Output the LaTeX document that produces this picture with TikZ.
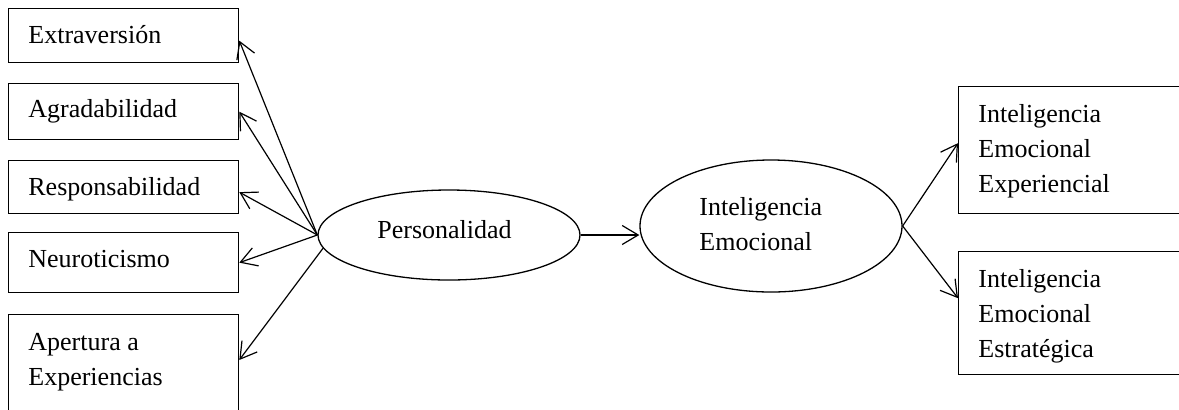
\documentclass[tikz,border=0pt]{standalone}
\usepackage{fontspec}
\setmainfont{Liberation Serif}
\usetikzlibrary{arrows.meta,shapes.geometric,calc}
\begin{document}
\begin{tikzpicture}[x=0.5pt,y=-0.5pt,
  frame/.style={draw, line width=0.65pt, fill=white, inner sep=0pt, anchor=north west},
  lbl/.style={inner sep=0pt, anchor=base west, align=left, font=\fontsize{13}{17.5}\selectfont},
  oval/.style={draw, ellipse, line width=0.65pt, inner sep=0pt, fill=white},
  link/.style={line width=0.6pt, -{Straight Barb[length=8pt,width=9.5pt]}}
]
\useasboundingbox (0,0) rectangle (1179,409);
\clip (0,0) rectangle (1179,409);

% personality trait boxes
\node[frame, minimum width=115pt, minimum height=27pt]   (ext) at (8,8)   {};
\node[frame, minimum width=115pt, minimum height=28pt]   (agr) at (8,83)  {};
\node[frame, minimum width=115pt, minimum height=26.5pt] (res) at (8,160) {};
\node[frame, minimum width=115pt, minimum height=30pt]   (neu) at (8,232) {};
\node[frame, minimum width=115pt, minimum height=75pt]   (ape) at (8,314) {};

% multi-line labels are placed by the baseline of their last line
\node[lbl] (extT) at (28,43)  {Extraversión};
\node[lbl] (agrT) at (28,117) {Agradabilidad};
\node[lbl] (resT) at (28,195) {Responsabilidad};
\node[lbl] (neuT) at (28,267) {Neuroticismo};
\node[lbl] (apeT) at (28,385) {Apertura a\\Experiencias};

% latent constructs
\node[oval, minimum width=131pt, minimum height=45pt] (pers) at (449,235) {};
\node[lbl] (persT) at (377,238) {Personalidad};
\node[oval, minimum width=131pt, minimum height=66pt] (ie) at (771,226) {};
\node[lbl] (ieT) at (699,250) {Inteligencia\\Emocional};

% emotional intelligence branches
\node[frame, minimum width=130pt, minimum height=63.5pt] (iee) at (958,86)  {};
\node[frame, minimum width=130pt, minimum height=61.5pt] (ies) at (958,251) {};
\node[lbl] (ieeT) at (978,192) {Inteligencia\\Emocional\\Experiencial};
\node[lbl] (iesT) at (978,357) {Inteligencia\\Emocional\\Estratégica};

% connectors
\draw[link] (pers.west) -- ($(ext.east)+(0,5)$);
\draw[link] (pers.west) -- (agr.east);
\draw[link] (pers.west) -- ($(res.east)+(0,5)$);
\draw[link] (pers.west) -- (neu.east);
\draw[link] (pers.186) -- ($(ape.north east)+(0,46)$);
\draw[link] (pers.east) -- (pers.east -| ie.west);
\draw[link] (ie.east) -- ($(iee.west)+(0,-7)$);
\draw[link] (ie.east) -- ($(ies.west)+(0,-15)$);
\end{tikzpicture}
\end{document}
